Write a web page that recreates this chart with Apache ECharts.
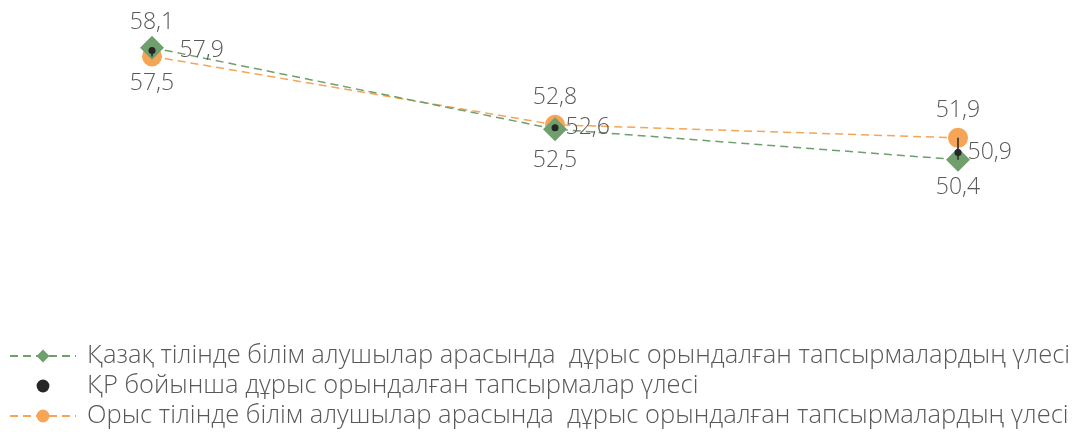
<!DOCTYPE html>
<html><head><meta charset="utf-8">
<script src="https://cdn.jsdelivr.net/npm/echarts@6/dist/echarts.min.js"></script>
<style>html,body{margin:0;padding:0;background:#fff}#c{width:1078px;height:436px}</style>
</head><body><div id="c"></div>
<script>
const categories = ['1', '2', '3'];
const kazakhValues = [58.1, 52.5, 50.4];
const totalValues = [57.9, 52.6, 50.9];
const russianValues = [57.5, 52.8, 51.9];
const seriesNames = [
  'Қазақ тілінде білім алушылар арасында  дұрыс орындалған тапсырмалардың үлесі',
  'ҚР бойынша дұрыс орындалған тапсырмалар үлесі',
  'Орыс тілінде білім алушылар арасында  дұрыс орындалған тапсырмалардың үлесі'
];
const GREEN = '#6F9F6C', ORANGE = '#F6A456', BLACK = '#262626', TXT = '#595959';
const FONT = '"Open Sans", "Noto Sans", sans-serif';
const fmt = p => String(p.value).replace('.', ',');
const lbl = (pos, extra) => Object.assign({show: true, position: pos, formatter: fmt, color: TXT, fontSize: 23, fontWeight: 300, fontFamily: FONT, distance: 4}, extra || {});
const hiLo = categories.map((c, i) => [i, Math.max(kazakhValues[i], totalValues[i], russianValues[i]), Math.min(kazakhValues[i], totalValues[i], russianValues[i])]);

const russianLabel = [{position: 'bottom', distance: 6}, {position: 'top', distance: 6}, {position: 'top', distance: 6}];
const kazakhLabel = [{position: 'top', distance: 2}, {position: 'bottom', distance: 8}, {position: 'bottom', distance: 4}];
const totalLabel = [{position: 'right', distance: 24}, {position: 'right', distance: 7}, {position: 'right', distance: 6}];

const chart = echarts.init(document.getElementById('c'));
chart.setOption({
  animation: false,
  grid: {left: 152, right: 120, top: 20, bottom: 125},
  xAxis: {type: 'category', data: categories, boundaryGap: false, show: false},
  yAxis: {type: 'value', min: 40, max: 60, show: false},
  legend: {
    data: seriesNames, orient: 'vertical', left: 4, top: 337, height: 110, itemGap: 2,
    itemWidth: 66, itemHeight: 16,
    textStyle: {color: TXT, fontSize: 25.5, lineHeight: 28, fontWeight: 300, fontFamily: FONT, padding: [0, 0, 0, 6]}
  },
  series: [
    {name: seriesNames[2], type: 'line', symbol: 'circle', symbolSize: 20,
     data: russianValues.map((v, i) => ({value: v, label: russianLabel[i]})),
     itemStyle: {color: ORANGE}, lineStyle: {color: ORANGE, type: [8, 5], width: 1.5},
     label: lbl('bottom'), z: 2},
    {name: seriesNames[0], type: 'line', symbol: 'diamond', symbolSize: 24,
     data: kazakhValues.map((v, i) => ({value: v, label: kazakhLabel[i]})),
     itemStyle: {color: GREEN}, lineStyle: {color: GREEN, type: [8, 5], width: 1.5},
     label: lbl('top'), z: 3},
    {type: 'custom', data: hiLo, z: 4, silent: true,
     renderItem: (params, api) => {
       const a = api.coord([api.value(0), api.value(1)]);
       const b = api.coord([api.value(0), api.value(2)]);
       return {type: 'line', shape: {x1: a[0], y1: a[1], x2: b[0], y2: b[1]}, style: {stroke: BLACK, lineWidth: 1.5}};
     }},
    {name: seriesNames[1], type: 'line', symbol: 'circle', symbolSize: 7,
     data: totalValues.map((v, i) => ({value: v, label: totalLabel[i]})),
     itemStyle: {color: BLACK}, lineStyle: {width: 0, opacity: 0},
     label: lbl('right'), z: 5}
  ]
});
</script></body></html>
